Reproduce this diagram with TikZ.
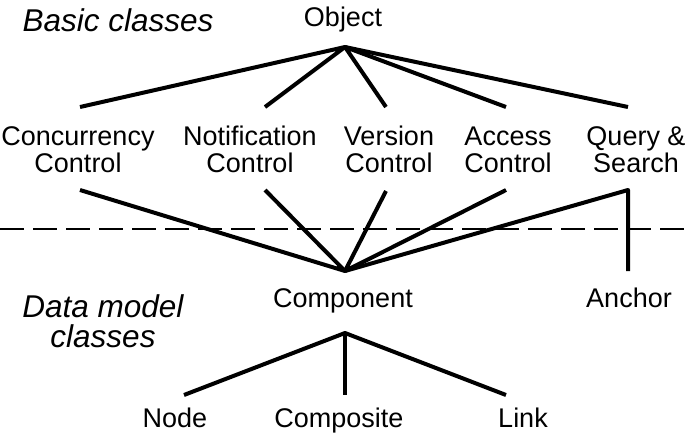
\documentclass[tikz,border=0pt]{standalone}
\usepackage{fontspec}
\setmainfont{Liberation Sans}
\begin{document}
\begin{tikzpicture}[x=1pt,y=-1pt,
  lbl/.style={inner sep=0pt,anchor=base,align=center,font=\fontsize{27}{27}\selectfont},
  ital/.style={lbl,font=\fontsize{31.5}{30}\selectfont\itshape},
  edge/.style={line width=4pt,line join=round},
  sep/.style={line width=2.2pt,dash pattern=on 24pt off 9pt}]
\useasboundingbox (0,0) rectangle (691,437);
% labels (anchor base = baseline of the last line)
\node[ital] (basic) at (118,31) {Basic classes};
\node[lbl] (object) at (343,26) {Object};
\node[lbl] (conc) at (78,172) {Concurrency\\Control};
\node[lbl] (noti) at (250,172) {Notification\\Control};
\node[lbl] (vers) at (389,172) {Version\\Control};
\node[lbl] (acc) at (508,172) {Access\\Control};
\node[lbl] (query) at (636,172) {Query \&\\Search};
\node[lbl] (comp) at (343,307) {Component};
\node[lbl] (anchor) at (629,307) {Anchor};
\node[ital] (data) at (103,347) {Data model\\classes};
\node[lbl] (node) at (175,427) {Node};
\node[lbl] (composite) at (339,427) {Composite};
\node[lbl] (link) at (523,427) {Link};
% connector end points
\coordinate (oA) at (345,47);
\coordinate (c1) at (80,107);
\coordinate (n1) at (265,107);
\coordinate (v1) at (386,107);
\coordinate (a1) at (506,107);
\coordinate (q1) at (628,107);
\coordinate (c2) at (80,190);
\coordinate (n2) at (265,190);
\coordinate (v2) at (386,191);
\coordinate (a2) at (506,190);
\coordinate (q2) at (628,190);
\coordinate (cA) at (345,271);
\coordinate (anT) at (628,271);
\coordinate (cB) at (345,333);
\coordinate (nd) at (184,395);
\coordinate (cp) at (345,395);
\coordinate (lk) at (506,395);
\coordinate (dl) at (0,229);
\coordinate (dr) at (691,229);
% separator
\draw[sep] (dl) -- (dr);
% edges
\draw[edge] (c1) -- (oA) -- (n1);
\draw[edge] (v1) -- (oA) -- (a1);
\draw[edge] (oA) -- (q1);
\draw[edge] (c2) -- (cA) -- (n2);
\draw[edge] (v2) -- (cA) -- (a2);
\draw[edge] (cA) -- (q2) -- (anT);
\draw[edge] (nd) -- (cB) -- (lk);
\draw[edge] (cB) -- (cp);
\end{tikzpicture}
\end{document}
